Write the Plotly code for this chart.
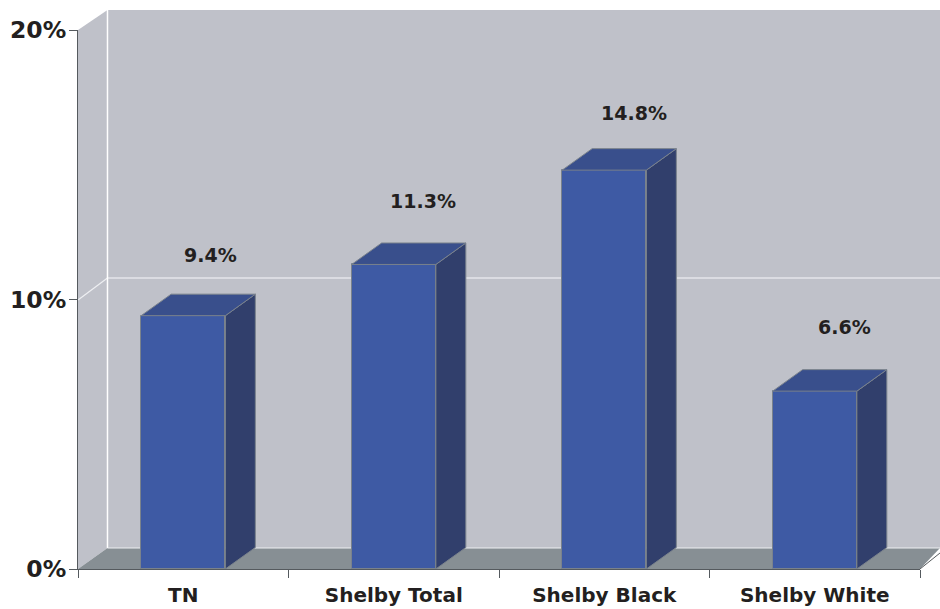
import plotly.graph_objects as go

categories = ["TN", "Shelby Total", "Shelby Black", "Shelby White"]
values = [9.4, 11.3, 14.8, 6.6]
labels = ["9.4%", "11.3%", "14.8%", "6.6%"]
y_ticks = [0, 10, 20]
y_tick_labels = ["0%", "10%", "20%"]

# --- styling / geometry (pixels) ---
W, H = 940, 609
LEFT, RIGHT, TOP, BOTTOM = 77.5, 920.0, 30.0, 569.0
DX, DY = 30.0, 21.5            # depth offset of the 3D box, pixels
BAR_W = 0.40
FONT = "DejaVu Sans"
TEXT = "#231f20"
label_shift = [(27, 61), (29.5, 63), (29.5, 57), (29.5, 64)]

x_per_px = 4.0 / (RIGHT - LEFT)
y_per_px = 20.0 / (BOTTOM - TOP)
dx_u, dy_u = DX * x_per_px, DY * y_per_px


def px(x):
    return (x - LEFT) / (RIGHT - LEFT)


def py(y):
    return (BOTTOM - y) / (BOTTOM - TOP)


def path(points):
    return "M" + " L".join(f"{px(a):.5f},{py(b):.5f}" for a, b in points) + " Z"


def poly(points, fill, line=None, width=0):
    return dict(type="path", xref="paper", yref="paper", layer="below",
                path=path(points), fillcolor=fill,
                line=dict(color=line or fill, width=width))


def seg(a, b, color, width):
    return dict(type="line", xref="paper", yref="paper", layer="below",
                x0=px(a[0]), y0=py(a[1]), x1=px(b[0]), y1=py(b[1]),
                line=dict(color=color, width=width))


WALL = "#bfc1c9"
FLOOR = "#878f94"
shapes = [
    poly([(107, 10), (940, 10), (940, 548), (107, 548)], WALL),
    poly([(LEFT, 30), (107, 10), (107, 548), (LEFT, BOTTOM)], WALL),
    poly([(107, 548), (940, 548), (RIGHT, BOTTOM), (LEFT, BOTTOM)], FLOOR),
    seg((107, 278), (940, 278), "#e4e5ea", 1.5),
    seg((LEFT, 300), (107, 278), "#eeeff2", 1.2),
    seg((107, 10), (107, 548), "#ffffff", 1.5),
    seg((107, 548), (940, 548), "#eeeff2", 1.2),
    seg((RIGHT, BOTTOM), (940, 553), "#55595c", 1),
]

fig = go.Figure()
edge = "#7a828c"
xs = list(range(len(categories)))

fig.add_trace(go.Bar(x=xs, y=values, width=BAR_W, marker=dict(color="#3e5aa4",
              line=dict(color=edge, width=1)), hoverinfo="skip", showlegend=False))

for i, v in zip(xs, values):
    xl, xr = i - BAR_W / 2, i + BAR_W / 2
    fig.add_trace(go.Scatter(
        x=[xr, xr + dx_u, xr + dx_u, xr, xr], y=[0, dy_u, v + dy_u, v, 0],
        mode="lines", fill="toself", fillcolor="#313f6c",
        line=dict(color=edge, width=1), hoverinfo="skip", showlegend=False))
    fig.add_trace(go.Scatter(
        x=[xl, xl + dx_u, xr + dx_u, xr, xl], y=[v, v + dy_u, v + dy_u, v, v],
        mode="lines", fill="toself", fillcolor="#394f8c",
        line=dict(color=edge, width=1), hoverinfo="skip", showlegend=False))

annotations = [
    dict(x=i, y=v, xref="x", yref="y", text=t, showarrow=False, xshift=s[0], yshift=s[1],
         font=dict(family=FONT, size=19, color=TEXT, weight="bold"),
         xanchor="center", yanchor="middle")
    for i, v, t, s in zip(xs, values, labels, label_shift)
]

axis_col = "#555a5e"
fig.update_layout(
    width=W, height=H, autosize=False,
    margin=dict(l=LEFT, r=W - RIGHT, t=TOP, b=H - BOTTOM, pad=0),
    paper_bgcolor="white", plot_bgcolor="rgba(0,0,0,0)",
    shapes=shapes, annotations=annotations, showlegend=False, bargap=0,
    xaxis=dict(range=[-0.5, 3.5], tickmode="array", tickvals=xs, ticktext=categories,
               automargin=False,
               ticks="outside", ticklen=8, tickcolor="rgba(0,0,0,0)", showgrid=False,
               zeroline=False, showline=True, linecolor=axis_col, linewidth=1.2,
               tickfont=dict(family=FONT, size=20, color=TEXT, weight="bold"),
               minor=dict(tickmode="array", tickvals=[-0.5, 0.5, 1.5, 2.5, 3.5],
                          ticks="outside", ticklen=8, tickwidth=1.2, tickcolor=axis_col,
                          showgrid=False)),
    yaxis=dict(range=[0, 20], tickmode="array", tickvals=y_ticks, ticktext=y_tick_labels,
               automargin=False, ticklabelstandoff=-2,
               ticks="outside", ticklen=8, tickwidth=1.2, tickcolor=axis_col, showgrid=False,
               zeroline=False, showline=True, linecolor=axis_col, linewidth=1.2,
               tickfont=dict(family=FONT, size=23.5, color=TEXT, weight="bold")),
)

fig.write_html("out.html", config=dict(displayModeBar=False),
               post_script="document.body.style.margin='0';document.documentElement.style.overflow='hidden';")
